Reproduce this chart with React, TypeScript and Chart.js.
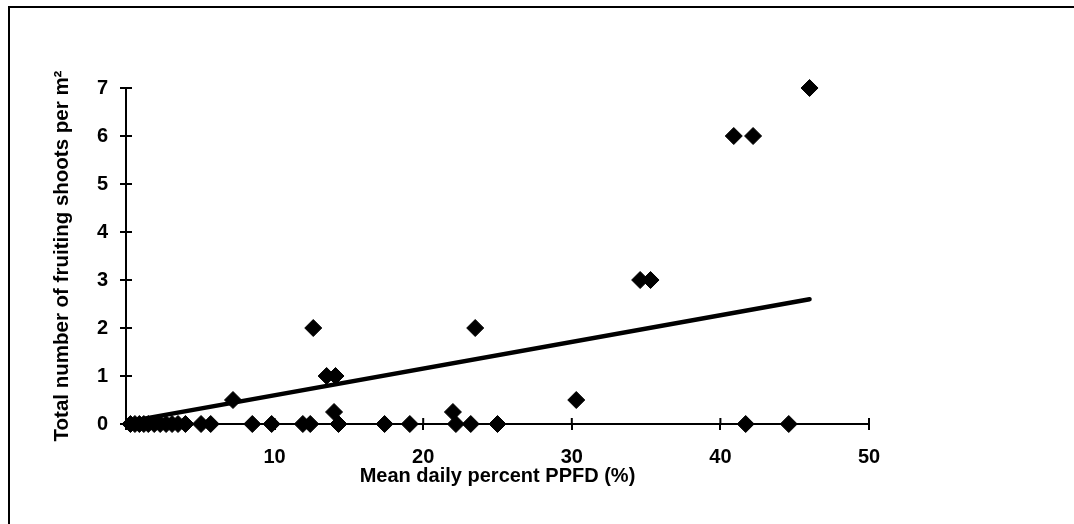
import React, { useEffect, useRef } from "react";
import { Chart, registerables } from "chart.js";

Chart.register(...registerables);

// Scatter observations: mean daily percent PPFD (%) vs fruiting shoots per m²
const ppfdX = [
  0.3, 0.6, 0.9, 1.2, 1.5, 1.9, 2.3, 2.7, 3.1, 3.5, 4.0, 5.05, 5.7, 8.5, 9.8, 11.9, 12.4, 14.3, 17.4, 19.1,
  22.2, 23.2, 25.0, 41.7, 44.6,
  7.2, 12.6, 13.5, 14.1, 14.0, 22.0, 23.5, 30.3, 34.6, 35.3, 40.9, 42.2, 46.0,
];
const shootsY = [
  0, 0, 0, 0, 0, 0, 0, 0, 0, 0, 0, 0, 0, 0, 0, 0, 0, 0, 0, 0,
  0, 0, 0, 0, 0,
  0.5, 2, 1, 1, 0.25, 0.25, 2, 0.5, 3, 3, 6, 6, 7,
];

// Linear trendline endpoints
const trendX = [0.3, 46.0];
const trendY = [0.06, 2.6];

// Axis tick values
const xTicks = [0, 10, 20, 30, 40, 50];
const yTicks = [0, 1, 2, 3, 4, 5, 6, 7];

const xTitle = "Mean daily percent PPFD (%)";
const yTitle = "Total number of fruiting shoots per m²";

const FONT = "'Liberation Sans', Arial, sans-serif";

const crossTicks = {
  id: "crossTicks",
  afterDraw(chart: any) {
    const { ctx, chartArea, scales } = chart;
    ctx.save();
    ctx.strokeStyle = "#000";
    ctx.lineWidth = 2;
    ctx.beginPath();
    xTicks.forEach((v) => {
      if (v === 0) return;
      const px = scales.x.getPixelForValue(v);
      ctx.moveTo(px, chartArea.bottom);
      ctx.lineTo(px, chartArea.bottom - 6);
    });
    yTicks.forEach((v) => {
      if (v === 0) return;
      const py = scales.y.getPixelForValue(v);
      ctx.moveTo(chartArea.left, py);
      ctx.lineTo(chartArea.left + 6, py);
    });
    ctx.stroke();
    ctx.restore();
  },
};

const frame = {
  id: "frame",
  beforeDraw(chart: any) {
    const { ctx, width, height } = chart;
    ctx.save();
    ctx.fillStyle = "#fff";
    ctx.fillRect(0, 0, width, height);
    ctx.strokeStyle = "#000";
    ctx.lineWidth = 2;
    ctx.beginPath();
    ctx.moveTo(9, height);
    ctx.lineTo(9, 7);
    ctx.lineTo(width, 7);
    ctx.stroke();
    ctx.restore();
  },
};

export default function App() {
  const ref = useRef<HTMLCanvasElement>(null);

  useEffect(() => {
    if (!ref.current) return;
    const scatterData = ppfdX.map((x, i) => ({ x, y: shootsY[i] }));
    const trendData = trendX.map((x, i) => ({ x, y: trendY[i] }));
    const chart = new Chart(ref.current, {
      type: "scatter",
      data: {
        datasets: [
          {
            type: "line",
            data: trendData,
            borderColor: "#000",
            borderWidth: 4.5,
            borderCapStyle: "round",
            pointRadius: 0,
            fill: false,
            clip: false,
          } as any,
          {
            data: scatterData,
            pointStyle: "rectRot",
            pointRadius: 8.5,
            pointHoverRadius: 8.5,
            backgroundColor: "#000",
            borderColor: "#000",
            borderWidth: 1,
            clip: false,
          } as any,
        ],
      },
      options: {
        responsive: false,
        animation: false,
        events: [],
        layout: { padding: { left: 0, top: 88, right: 205, bottom: 0 } },
        plugins: { legend: { display: false }, tooltip: { enabled: false } },
        scales: {
          x: {
            type: "linear",
            min: 0,
            max: 50,
            afterFit: (s: any) => {
              s.height = 100;
            },
            afterBuildTicks: (s: any) => {
              s.ticks = xTicks.map((v) => ({ value: v }));
            },
            border: { display: true, color: "#000", width: 2 },
            grid: { drawOnChartArea: false, drawTicks: true, tickLength: 6, color: "#000", lineWidth: 2 },
            ticks: {
              color: "#000",
              padding: 15,
              font: { family: FONT, size: 20, weight: "bold" },
              callback: (v: any) => (v === 0 ? "" : String(v)),
            },
            title: {
              display: true,
              text: xTitle,
              color: "#000",
              font: { family: FONT, size: 20, weight: "bold" },
              padding: { top: 0, bottom: 36 },
            },
          },
          y: {
            type: "linear",
            min: 0,
            max: 7,
            afterFit: (s: any) => {
              s.width = 126;
            },
            afterBuildTicks: (s: any) => {
              s.ticks = yTicks.map((v) => ({ value: v }));
            },
            border: { display: true, color: "#000", width: 2 },
            grid: { drawOnChartArea: false, drawTicks: true, tickLength: 6, color: "#000", lineWidth: 2 },
            ticks: {
              color: "#000",
              padding: 12,
              font: { family: FONT, size: 20, weight: "bold" },
            },
            title: {
              display: true,
              text: yTitle,
              color: "#000",
              font: { family: FONT, size: 20.5, weight: "bold" },
              padding: { top: 50, bottom: 0 },
            },
          },
        },
      },
      plugins: [frame, crossTicks],
    });
    return () => chart.destroy();
  }, []);

  return (
    <div style={{ position: "fixed", left: 0, top: 0, width: 1074, height: 524, background: "#fff" }}>
      <canvas ref={ref} width={1074} height={524} style={{ width: 1074, height: 524, display: "block" }} />
    </div>
  );
}
